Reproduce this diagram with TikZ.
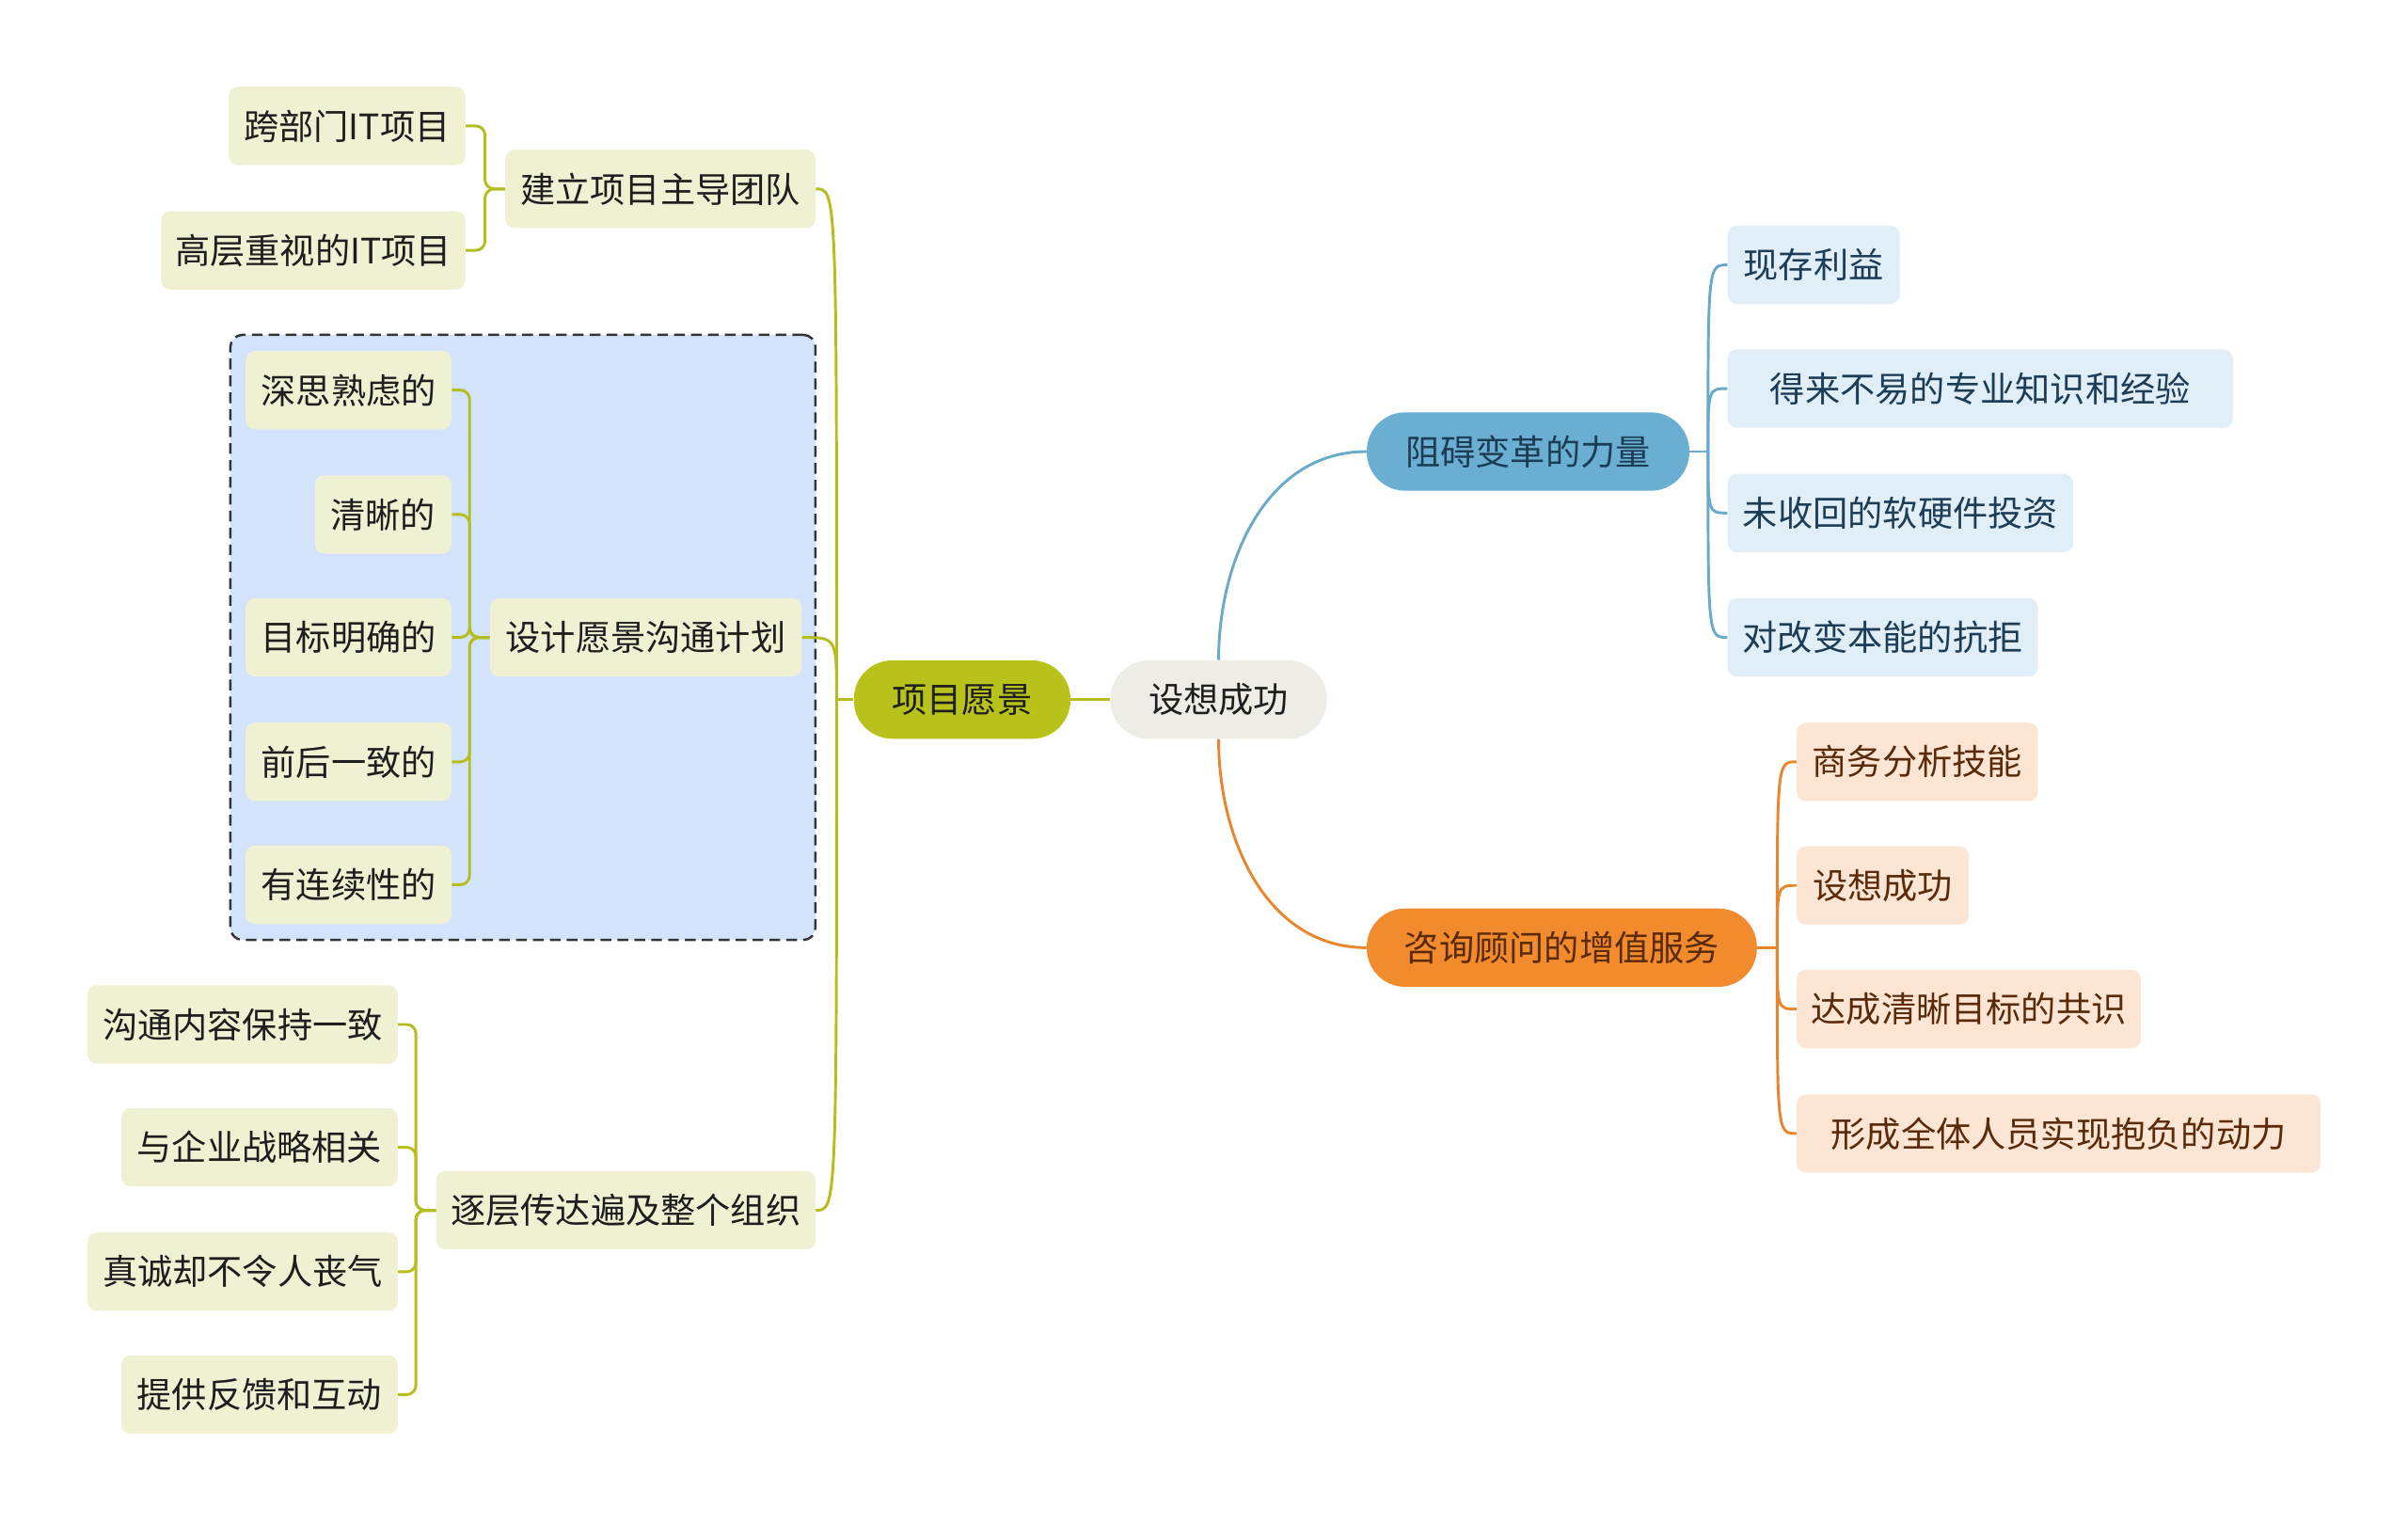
\documentclass[tikz,border=0pt]{standalone}
\usepackage{fontspec}
\newfontfamily\cjk{Noto Sans CJK SC}
\definecolor{oliveC}{HTML}{B5BE1C}
\definecolor{oliveM}{HTML}{B9C21A}
\definecolor{oliveL}{HTML}{F0F0D2}
\definecolor{rootF}{HTML}{EEEDE5}
\definecolor{frameF}{HTML}{D3E3FB}
\definecolor{frameD}{HTML}{333333}
\definecolor{blueC}{HTML}{6AAAC9}
\definecolor{blueM}{HTML}{6AAFD2}
\definecolor{blueL}{HTML}{DFEEF7}
\definecolor{blueT}{HTML}{1D3C55}
\definecolor{orgC}{HTML}{E8862E}
\definecolor{orgM}{HTML}{F28A2E}
\definecolor{orgL}{HTML}{FDE5D3}
\definecolor{orgT}{HTML}{5A2B0B}
\definecolor{txtD}{HTML}{1E1E1E}
\begin{document}
\begin{tikzpicture}[x=1pt,y=-1pt,
  every node/.style={font=\cjk\fontsize{22.8}{26}\selectfont, inner sep=0pt, minimum height=51pt, align=center},
  obox/.style={fill=oliveL, rounded corners=6pt, text=txtD},
  bbox/.style={fill=blueL, rounded corners=6pt, text=blueT},
  xbox/.style={fill=orgL, rounded corners=6pt, text=orgT},
  pill/.style={rounded corners=25pt},
  wd/.style={minimum width=#1},
  oline/.style={draw=oliveC, line width=1.8pt},
  bline/.style={draw=blueC, line width=1.8pt},
  xline/.style={draw=orgC, line width=1.8pt},
  brk/.style={draw=oliveC, line width=1.8pt, rounded corners=6pt},
  frame/.style={draw=frameD, fill=frameF, dashed, dash pattern=on 7pt off 4pt, line width=1.5pt, rounded corners=8pt}
]
\useasboundingbox[fill=white] (0,0) rectangle (1568,992);

% dashed frame
\node[frame, minimum width=381pt, minimum height=394pt] (frm) at (340.5,415) {};

% center
\node[pill, fill=rootF, text=txtD, wd=141pt] (root) at (793.5,455.5) {设想成功};
\node[pill, fill=oliveM, text=txtD, wd=141pt] (pm) at (626.5,455.5) {项目愿景};
\node[pill, fill=blueM, text=blueT, wd=210pt] (zb) at (995,294) {阻碍变革的力量};
\node[pill, fill=orgM, text=orgT, wd=254pt] (zx) at (1017,617) {咨询顾问的增值服务};

% left level 2
\node[obox, wd=202pt] (b1) at (430,123) {建立项目主导团队};
\node[obox, wd=203pt] (b2) at (420.5,415) {设计愿景沟通计划};
\node[obox, wd=247pt] (b3) at (407.5,788) {逐层传达遍及整个组织};

% left level 3
\node[obox, wd=154pt] (a1) at (226,82) {跨部门IT项目};
\node[obox, wd=198pt] (a2) at (204,163) {高层重视的IT项目};

\node[obox, wd=134pt] (c1) at (227,254) {深思熟虑的};
\node[obox, wd=89pt] (c2) at (249.5,335) {清晰的};
\node[obox, wd=134pt] (c3) at (227,415) {目标明确的};
\node[obox, wd=134pt] (c4) at (227,496) {前后一致的};
\node[obox, wd=134pt] (c5) at (227,576) {有连续性的};

\node[obox, wd=202pt] (d1) at (158,667) {沟通内容保持一致};
\node[obox, wd=180pt] (d2) at (169,747) {与企业战略相关};
\node[obox, wd=202pt] (d3) at (158,828) {真诚却不令人丧气};
\node[obox, wd=180pt] (d4) at (169,908) {提供反馈和互动};

% right blue
\node[bbox, wd=112pt] (e1) at (1181,172.5) {现存利益};
\node[bbox, wd=329pt] (e2) at (1289.5,253) {得来不易的专业知识和经验};
\node[bbox, wd=225pt] (e3) at (1237.5,334) {未收回的软硬件投资};
\node[bbox, wd=202pt] (e4) at (1226,415) {对改变本能的抗拒};

% right orange
\node[xbox, wd=157pt] (f1) at (1248.5,496) {商务分析技能};
\node[xbox, wd=112pt] (f2) at (1226,576.5) {设想成功};
\node[xbox, wd=224pt] (f3) at (1282,657) {达成清晰目标的共识};
\node[xbox, wd=341pt] (f4) at (1340.5,738) {形成全体人员实现抱负的动力};

% root connectors
\draw[oline] (pm.east) -- (root.west);
\draw[bline] (root.north) to[out=90,in=180] (zb.west);
\draw[xline] (root.south) to[out=-90,in=180] (zx.west);

% left trunk
\draw[oline] (pm.west) -- ++(-11,0) coordinate (jl);
\draw[oline] (jl) .. controls (jl |- b1.east) .. (b1.east);
\draw[oline] (jl) .. controls (jl |- b2.east) .. (b2.east);
\draw[oline] (jl) .. controls (jl |- b3.east) .. (b3.east);

% brackets
\foreach \c in {a1,a2} \draw[brk] (b1.west) -- ++(-13,0) |- (\c.east);
\foreach \c in {c1,c2,c3,c4,c5} \draw[brk] (b2.west) -- ++(-13,0) |- (\c.east);
\foreach \c in {d1,d2,d3,d4} \draw[brk] (b3.west) -- ++(-13,0) |- (\c.east);

% blue
\draw[bline] (zb.east) -- ++(12,0) coordinate (jb);
\foreach \c in {e1,e2,e3,e4} \draw[bline] (jb) .. controls (jb |- \c.west) .. (\c.west);

% orange
\draw[xline] (zx.east) -- ++(13,0) coordinate (jo);
\foreach \c in {f1,f2,f3,f4} \draw[xline] (jo) .. controls (jo |- \c.west) .. (\c.west);
\end{tikzpicture}
\end{document}
